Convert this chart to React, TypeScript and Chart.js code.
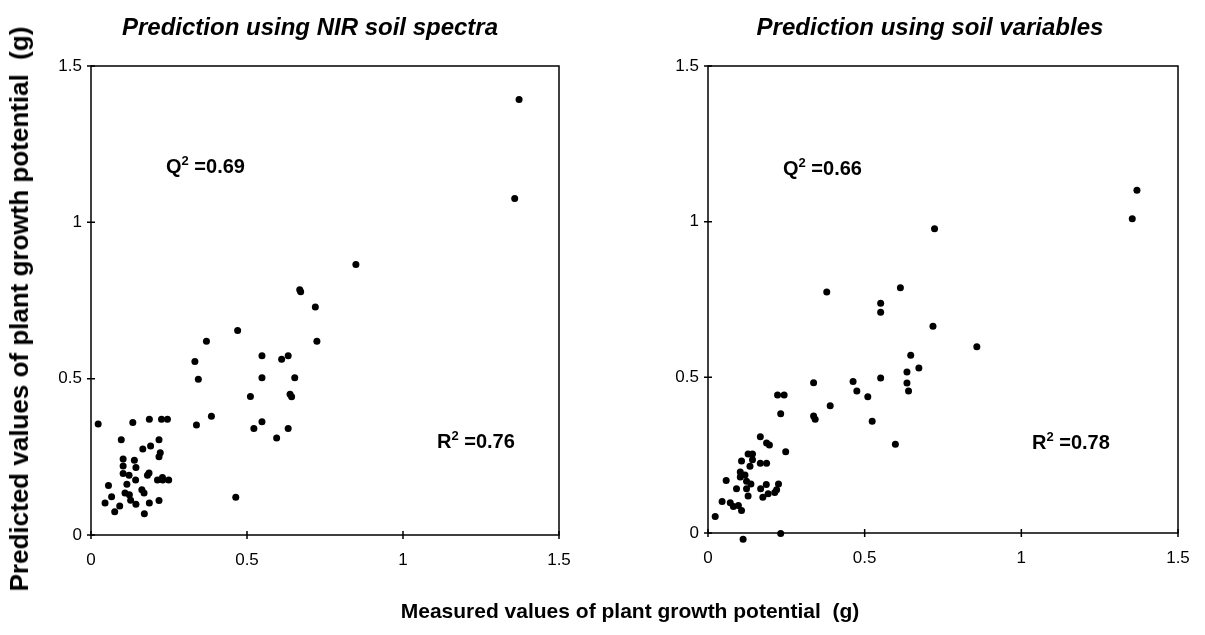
import React, { useEffect, useRef } from "react";
import { Chart, registerables } from "chart.js";

Chart.register(...registerables);

// ---- Data ----
const nirMeasured = [
  0.023, 0.134, 0.187, 0.226, 0.245, 0.097, 0.218, 0.166, 0.191, 0.222,
  0.218, 0.103, 0.139, 0.103, 0.144, 0.103, 0.122, 0.186, 0.181, 0.143,
  0.213, 0.229, 0.23, 0.249, 0.115, 0.056, 0.163, 0.17, 0.109, 0.123,
  0.066, 0.127, 0.218, 0.045, 0.144, 0.187, 0.092, 0.076, 0.171, 0.464,
  0.333, 0.344, 0.37, 0.47, 0.338, 0.386, 0.548, 0.548, 0.511, 0.548,
  0.522, 0.595, 0.611, 0.632, 0.653, 0.638, 0.643, 0.632, 0.719, 0.724,
  0.669, 0.672, 0.849, 1.358, 1.372,
];
const nirPredicted = [
  0.355, 0.36, 0.37, 0.37, 0.37, 0.305, 0.305, 0.275, 0.285, 0.263,
  0.25, 0.243, 0.239, 0.221, 0.216, 0.197, 0.191, 0.198, 0.191, 0.176,
  0.176, 0.184, 0.176, 0.176, 0.162, 0.158, 0.145, 0.134, 0.134, 0.129,
  0.122, 0.111, 0.11, 0.102, 0.098, 0.102, 0.093, 0.074, 0.068, 0.121,
  0.555, 0.498, 0.62, 0.654, 0.352, 0.38, 0.573, 0.503, 0.443, 0.362,
  0.341, 0.31, 0.562, 0.573, 0.503, 0.45, 0.442, 0.341, 0.729, 0.62,
  0.784, 0.778, 0.865, 1.076, 1.393,
];

const soilMeasured = [
  0.023, 0.112, 0.232, 0.045, 0.071, 0.081, 0.097, 0.107, 0.058, 0.091,
  0.103, 0.103, 0.118, 0.123, 0.123, 0.137, 0.128, 0.107, 0.128, 0.142,
  0.134, 0.142, 0.167, 0.187, 0.167, 0.187, 0.196, 0.248, 0.168, 0.186,
  0.175, 0.192, 0.213, 0.219, 0.225, 0.222, 0.243, 0.232, 0.337, 0.337,
  0.342, 0.39, 0.463, 0.475, 0.51, 0.524, 0.551, 0.598, 0.614, 0.551,
  0.551, 0.718, 0.858, 0.647, 0.673, 0.635, 0.635, 0.64, 0.379, 0.723,
  1.369, 1.354,
];
const soilPredicted = [
  0.053, -0.02, -0.002, 0.101, 0.097, 0.085, 0.088, 0.072, 0.169, 0.142,
  0.18, 0.196, 0.186, 0.166, 0.142, 0.157, 0.119, 0.231, 0.254, 0.254,
  0.214, 0.235, 0.224, 0.224, 0.309, 0.289, 0.283, 0.261, 0.142, 0.156,
  0.115, 0.126, 0.13, 0.139, 0.157, 0.443, 0.443, 0.383, 0.483, 0.376,
  0.365, 0.409, 0.487, 0.456, 0.438, 0.359, 0.498, 0.285, 0.788, 0.738,
  0.709, 0.664, 0.598, 0.571, 0.53, 0.517, 0.482, 0.456, 0.774, 0.977,
  1.101, 1.009,
];

const axisMin = 0;
const axisMax = 1.5;
const axisStep = 0.5;

const leftTitle = "Prediction using NIR soil spectra";
const rightTitle = "Prediction using soil variables";
const yAxisLabel = "Predicted values of plant growth potential  (g)";
const xAxisLabel = "Measured values of plant growth potential  (g)";
const leftQ2 = ["Q", "2", " =0.69"];
const leftR2 = ["R", "2", " =0.76"];
const rightQ2 = ["Q", "2", " =0.66"];
const rightR2 = ["R", "2", " =0.78"];

const FONT = "'Liberation Sans', Arial, Helvetica, sans-serif";
const POINT_R = 3.5;

const frameTicksPlugin = {
  id: "frameTicks",
  beforeDatasetsDraw(chart: any) {
    const { ctx, chartArea: a, scales } = chart;
    ctx.save();
    ctx.strokeStyle = "#000";
    ctx.lineWidth = 1.5;
    ctx.strokeRect(a.left, a.top, a.right - a.left, a.bottom - a.top);
    ctx.beginPath();
    scales.x.ticks.forEach((t: any) => {
      const p = scales.x.getPixelForValue(t.value);
      ctx.moveTo(p, a.bottom - 4);
      ctx.lineTo(p, a.bottom + 4);
    });
    scales.y.ticks.forEach((t: any) => {
      const p = scales.y.getPixelForValue(t.value);
      ctx.moveTo(a.left - 4, p);
      ctx.lineTo(a.left + 4, p);
    });
    ctx.stroke();
    ctx.restore();
  },
  // Chart.js skips points lying outside the chart area; draw those at their scale position
  afterDatasetsDraw(chart: any) {
    const { ctx, chartArea: a } = chart;
    ctx.save();
    ctx.fillStyle = "#000";
    chart.getSortedVisibleDatasetMetas().forEach((meta: any) => {
      meta.data.forEach((el: any) => {
        const m = POINT_R / 2;
        const inside = el.x >= a.left - m && el.x <= a.right + m && el.y >= a.top - m && el.y <= a.bottom + m;
        if (!inside) {
          ctx.beginPath();
          ctx.arc(el.x, el.y, POINT_R, 0, Math.PI * 2);
          ctx.fill();
        }
      });
    });
    ctx.restore();
  },
};

type PanelProps = {
  xs: number[];
  ys: number[];
  left: number;
  width: number;
  height: number;
  padTop: number;
  padRight: number;
  yAxisW: number;
  xAxisH: number;
};

const fmt = (v: any) => String(Number(v));

function Panel(p: PanelProps) {
  const ref = useRef<HTMLCanvasElement>(null);
  useEffect(() => {
    if (!ref.current) return;
    const data = p.xs.map((x, i) => ({ x, y: p.ys[i] }));
    const tickFont = { family: FONT, size: 17 };
    const chart = new Chart(ref.current, {
      type: "scatter",
      data: {
        datasets: [
          {
            data,
            backgroundColor: "#000",
            borderColor: "#000",
            borderWidth: 0,
            pointRadius: POINT_R,
            pointHoverRadius: POINT_R,
            clip: false as any,
          },
        ],
      },
      options: {
        responsive: false,
        animation: false,
        events: [],
        layout: { padding: { top: p.padTop, right: p.padRight, left: 0, bottom: 0 } },
        plugins: { legend: { display: false }, tooltip: { enabled: false }, title: { display: false } },
        scales: {
          x: {
            type: "linear",
            min: axisMin,
            max: axisMax,
            ticks: { stepSize: axisStep, color: "#000", font: tickFont, padding: 15, maxRotation: 0, callback: fmt },
            grid: { display: false, drawTicks: false },
            border: { display: false },
            afterFit: (s: any) => {
              s.height = p.xAxisH;
            },
          },
          y: {
            type: "linear",
            min: axisMin,
            max: axisMax,
            ticks: { stepSize: axisStep, color: "#000", font: tickFont, padding: 9, callback: fmt },
            grid: { display: false, drawTicks: false },
            border: { display: false },
            afterFit: (s: any) => {
              s.width = p.yAxisW;
            },
          },
        },
      },
      plugins: [frameTicksPlugin],
    });
    return () => chart.destroy();
  }, []);
  return (
    <canvas
      ref={ref}
      width={p.width}
      height={p.height}
      style={{ position: "absolute", left: p.left, top: 0, width: p.width, height: p.height, display: "block" }}
    />
  );
}

const textBase: React.CSSProperties = {
  position: "absolute",
  fontFamily: FONT,
  color: "#000",
  whiteSpace: "pre",
  lineHeight: 1,
};

function Stat({ parts, left, top }: { parts: string[]; left: number; top: number }) {
  return (
    <div style={{ ...textBase, left, top, transform: "translateY(-50%)", fontSize: 20, fontWeight: "bold" }}>
      {parts[0]}
      <span style={{ fontSize: 13, position: "relative", top: -8 }}>{parts[1]}</span>
      {parts[2]}
    </div>
  );
}

export default function App() {
  return (
    <div style={{ position: "fixed", left: 0, top: 0, width: 1205, height: 635, background: "#fff", overflow: "hidden" }}>
      <Panel xs={nirMeasured} ys={nirPredicted} left={0} width={600} height={600} padTop={66} padRight={41} yAxisW={91} xAxisH={65} />
      <Panel xs={soilMeasured} ys={soilPredicted} left={600} width={605} height={600} padTop={66} padRight={27} yAxisW={108} xAxisH={67} />

      <div style={{ ...textBase, left: 310, top: 27, transform: "translate(-50%,-50%)", fontSize: 24, fontWeight: "bold", fontStyle: "italic" }}>{leftTitle}</div>
      <div style={{ ...textBase, left: 930, top: 27, transform: "translate(-50%,-50%)", fontSize: 24, fontWeight: "bold", fontStyle: "italic" }}>{rightTitle}</div>

      <div style={{ ...textBase, left: 19, top: 309, transform: "translate(-50%,-50%) rotate(-90deg)", fontSize: 26, fontWeight: "bold" }}>{yAxisLabel}</div>
      <div style={{ ...textBase, left: 630, top: 610, transform: "translate(-50%,-50%)", fontSize: 21, fontWeight: "bold" }}>{xAxisLabel}</div>

      <Stat parts={leftQ2} left={166} top={166} />
      <Stat parts={leftR2} left={437} top={441} />
      <Stat parts={rightQ2} left={783} top={168} />
      <Stat parts={rightR2} left={1032} top={442} />
    </div>
  );
}
